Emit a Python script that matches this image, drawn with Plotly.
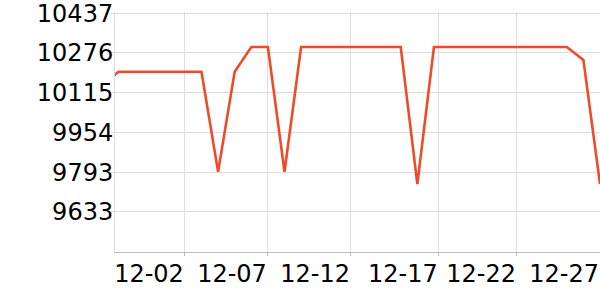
import plotly.graph_objects as go

dates = [
    "2023-11-27", "2023-11-28", "2023-11-29", "2023-11-30", "2023-12-01",
    "2023-12-02", "2023-12-03", "2023-12-04", "2023-12-05", "2023-12-06",
    "2023-12-07", "2023-12-08", "2023-12-09", "2023-12-10", "2023-12-11",
    "2023-12-12", "2023-12-13", "2023-12-14", "2023-12-15", "2023-12-16",
    "2023-12-17", "2023-12-18", "2023-12-19", "2023-12-20", "2023-12-21",
    "2023-12-22", "2023-12-23", "2023-12-24", "2023-12-25", "2023-12-26",
    "2023-12-27",
]
values = [
    10140, 10200, 10200, 10200, 10200,
    10200, 10200, 9795, 10200, 10300,
    10300, 9795, 10300, 10300, 10300,
    10300, 10300, 10300, 10300, 9745,
    10300, 10300, 10300, 10300, 10300,
    10300, 10300, 10300, 10300, 10248,
    9745,
]

y_ticks = [9633, 9793, 9954, 10115, 10276, 10437]
y_tick_labels = ["9633", "9793", "9954", "10115", "10276", "10437"]
x_ticks = ["2023-12-02", "2023-12-07", "2023-12-12", "2023-12-17 07:00",
           "2023-12-22", "2023-12-27"]
x_tick_labels = ["12-02", "12-07", "12-12", "12-17", "12-22", "12-27"]

fig = go.Figure()
fig.add_trace(go.Scatter(
    x=dates, y=values, mode="lines",
    line=dict(color="#ee4b2b", width=2.6),
    hoverinfo="skip",
))

fig.update_layout(
    width=600, height=300,
    margin=dict(l=115, r=0, t=9, b=48),
    paper_bgcolor="white", plot_bgcolor="white",
    showlegend=False,
    font=dict(family="DejaVu Sans", size=24, color="#000"),
)
fig.update_xaxes(
    type="date",
    range=["2023-11-27 19:00", "2023-12-27 00:00"],
    tickvals=x_ticks, ticktext=x_tick_labels,
    tickangle=0,
    ticklabelposition="outside left",
    ticklabeloverflow="allow",
    showgrid=True, gridcolor="#dddddd", gridwidth=1,
    showline=True, linecolor="#bbbbbb", linewidth=1,
    ticks="outside", ticklen=3, tickcolor="#bbbbbb",
    zeroline=False,
)
fig.update_yaxes(
    range=[9470, 10442],
    tickvals=y_ticks, ticktext=y_tick_labels,
    ticklabelstandoff=-7,
    ticklabeloverflow="allow",
    showgrid=True, gridcolor="#dddddd", gridwidth=1,
    showline=True, linecolor="#dddddd", linewidth=1,
    ticks="outside", ticklen=3, tickcolor="#dddddd",
    zeroline=False,
)

fig.write_html("out.html")
